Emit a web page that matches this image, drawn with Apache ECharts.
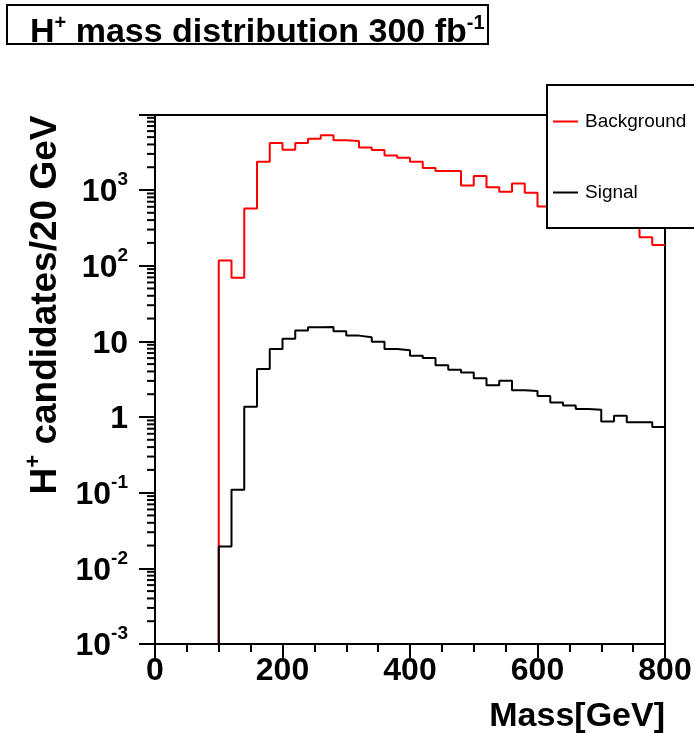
<!DOCTYPE html>
<html><head><meta charset="utf-8">
<script src="https://cdn.jsdelivr.net/npm/echarts@6/dist/echarts.min.js"></script>
<style>html,body{margin:0;padding:0;background:#fff}#c{width:694px;height:733px}</style>
</head><body><div id="c"></div>
<script>
// Bin edges of the mass histogram (GeV)
const massBinEdges = [0,20,40,60,80,100,120,140,160,180,200,220,240,260,280,300,320,340,360,380,400,
  420,440,460,480,500,520,540,560,580,600,620,640,660,680,700,720,740,760,780,800];
// Background: H+ candidates / 20 GeV (empty bins drawn at axis floor 1e-3)
const background = [0.001,0.001,0.001,0.001,0.001,117,69,570,2366,4176,3405,4176,4766,5272,4528,4440,3657,3372,2866,2672,
  2366,1950,1778,1778,1149,1527,1091,948,1222,920,606,720,560,640,500,450,420,360,238,187];
// Signal
const signal = [0.001,0.001,0.001,0.001,0.001,0.0194,0.109,1.37,4.31,7.93,10.8,13.9,15.3,15.5,13.6,11.9,11.3,9.9,7.93,7.6,
  6.47,6.03,4.82,4.22,3.86,3.24,2.62,3.02,2.25,2.2,1.90,1.55,1.42,1.28,1.25,0.875,1.04,0.85,0.85,0.736];
const seriesNames = ['Background','Signal'];
const xTickLabels = ['0','200','400','600','800'];
const yTickValues = [0.001,0.01,0.1,1,10,100,1000];
const yTickLabels = ['10{s|-3}','10{s|-2}','10{s|-1}','1','10','10{s|2}','10{s|3}'];

const FONT = '"Liberation Sans", Arial, Helvetica, sans-serif';

function stepData(vals){
  const d = vals.map((v,i)=>[massBinEdges[i], v]);
  d.push([massBinEdges[vals.length], vals[vals.length-1]]);
  return d;
}
// minor log ticks 2..9 x 10^k
const minorTickVals = [];
for (let k=-3;k<=3;k++){ for (let m=2;m<=9;m++){ const v=m*Math.pow(10,k); if (v<9800) minorTickVals.push([0,v]); } }

const chart = echarts.init(document.getElementById('c'), null, {renderer:'canvas'});
chart.setOption({
  animation:false,
  backgroundColor:'#fff',
  title:{
    text:'{b|H}{s|+}{b| mass distribution 300 fb}{s|-1}',
    left:30, top:13, z:60, padding:0,
    textStyle:{ rich:{
      b:{fontFamily:FONT,fontWeight:'bold',fontSize:34,color:'#000',lineHeight:40},
      s:{fontFamily:FONT,fontWeight:'bold',fontSize:20,color:'#000',lineHeight:20,verticalAlign:'top'}
    }}
  },
  graphic:[
    {type:'rect', z:50, shape:{x:7,y:5,width:481,height:39}, style:{fill:'#fff',stroke:'#000',lineWidth:2}},
    {type:'rect', z:50, shape:{x:547,y:85,width:170,height:143}, style:{fill:'#fff',stroke:'#000',lineWidth:2}}
  ],
  legend:[
    {data:[seriesNames[0]], left:553, top:112, orient:'vertical', icon:'rect', itemWidth:25, itemHeight:2, padding:0, z:60,
     textStyle:{fontFamily:FONT,fontSize:19,color:'#000',padding:[0,0,0,2]}},
    {data:[seriesNames[1]], left:553, top:183, orient:'vertical', icon:'rect', itemWidth:25, itemHeight:2, padding:0, z:60,
     textStyle:{fontFamily:FONT,fontSize:19,color:'#000',padding:[0,0,0,2]}}
  ],
  grid:{left:155,right:29,top:115,bottom:89,show:true,borderColor:'#000',borderWidth:2,backgroundColor:'transparent',outerBoundsMode:'none'},
  xAxis:{
    type:'value', min:0, max:800, interval:200,
    name:'Mass[GeV]', nameLocation:'end', nameGap:0,
    nameTextStyle:{fontFamily:FONT,fontWeight:'bold',fontSize:34,color:'#000',align:'right',verticalAlign:'top',padding:[56,0,0,0]},
    axisLine:{lineStyle:{color:'#000',width:2}},
    axisTick:{length:14,lineStyle:{color:'#000',width:2}},
    minorTick:{show:true,splitNumber:4,length:8,lineStyle:{color:'#000',width:2}},
    splitLine:{show:false}, minorSplitLine:{show:false},
    axisLabel:{fontFamily:FONT,fontWeight:'bold',fontSize:32,color:'#000',margin:11,
      formatter:(v)=>xTickLabels[Math.round(v/200)]}
  },
  yAxis:{
    type:'log', logBase:10, min:0.001, max:9800,
    name:'{b|H}{s|+}{b| candidates/20 GeV}', nameLocation:'middle', nameGap:82, nameRotate:90,
    nameTextStyle:{padding:[0,0,0,149], rich:{
      b:{fontFamily:FONT,fontWeight:'bold',fontSize:37,color:'#000',lineHeight:46},
      s:{fontFamily:FONT,fontWeight:'bold',fontSize:22,color:'#000',lineHeight:22,verticalAlign:'top'}
    }},
    axisLine:{lineStyle:{color:'#000',width:2}},
    axisTick:{length:16,lineStyle:{color:'#000',width:2}},
    splitLine:{show:false},
    axisLabel:{fontFamily:FONT,fontWeight:'bold',fontSize:32,color:'#000',margin:27,lineHeight:44,padding:[5,0,0,0],
      formatter:(v)=>{ const i=yTickValues.findIndex(t=>Math.abs(Math.log10(t)-Math.log10(v))<1e-6); return i>=0?yTickLabels[i]:''; },
      rich:{s:{fontFamily:FONT,fontWeight:'bold',fontSize:19,color:'#000',lineHeight:19,verticalAlign:'top'}}
    }
  },
  series:[
    {name:seriesNames[0], type:'line', step:'end', data:stepData(background), showSymbol:false, color:'#ff0000',
     lineStyle:{color:'#ff0000',width:2}, z:2, silent:true},
    {name:seriesNames[1], type:'line', step:'end', data:stepData(signal), showSymbol:false, color:'#000000',
     lineStyle:{color:'#000000',width:2}, z:3, silent:true},
    {type:'custom', data:minorTickVals, clip:false, silent:true, z:4, encode:{x:0,y:1},
     renderItem:(params,api)=>{ const p=api.coord([api.value(0),api.value(1)]);
       return {type:'line', shape:{x1:p[0]-8,y1:p[1],x2:p[0],y2:p[1]}, style:{stroke:'#000',lineWidth:2}}; }}
  ]
});
</script></body></html>
